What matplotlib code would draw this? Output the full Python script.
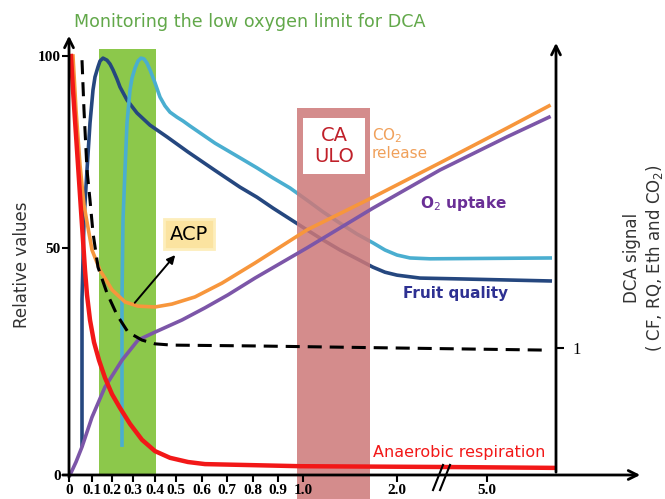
import matplotlib.pyplot as plt
import matplotlib.patches as patches

# x is position along the drawn O2 axis, y is relative value (0-100)
xtick_pos = [0, 23, 43, 64, 86, 107, 133, 158, 184, 209, 234, 328, 418]
xtick_labels = ['0', '0.1', '0.2', '0.3', '0.4', '0.5', '0.6', '0.7', '0.8', '0.9', '1.0', '2.0', '5.0']
ytick_pos = [0, 54.2, 100]
ytick_labels = ['0', '50', '100']
dca_tick_pos = [30.3]
dca_tick_labels = ['1']

# anaerobic respiration
red_x = [2, 4, 6, 8, 10, 12, 14, 16, 18, 21, 25, 30, 36, 43, 51, 61, 73, 86, 101, 119, 136, 231, 381, 484]
red_y = [100, 91.9, 84.7, 77.6, 70.4, 63.2, 56.1, 48.9, 43.0, 37.0, 31.7, 27.4, 23.2, 19.3, 16.0, 12.2,
         8.4, 5.7, 4.1, 3.1, 2.6, 2.1, 1.9, 1.7]

# CO2 release
co2_x = [4, 7, 11, 15, 23, 31, 43, 56, 69, 86, 103, 126, 153, 186, 238, 304, 371, 438, 480]
co2_y = [100, 87.1, 74.0, 64.4, 53.7, 48.9, 44.2, 41.3, 40.3, 40.1, 40.8, 42.5, 45.8, 50.6, 58.5, 66.3, 74.5, 82.8, 88.1]

# O2 uptake
o2_x = [1, 7, 13, 23, 36, 53, 69, 86, 113, 136, 159, 186, 238, 304, 371, 438, 480]
o2_y = [0, 3.1, 6.7, 13.8, 21.0, 27.4, 32.2, 34.1, 37.0, 39.9, 43.0, 47.0, 54.2, 63.7, 72.8, 80.7, 85.4]

# fruit quality (dark blue)
fq_x = [13, 13, 15, 18, 21, 24, 26, 29, 31, 34, 38, 41, 44, 48, 51, 58, 68, 81, 98, 119, 146, 171, 188,
        204, 221, 238, 254, 271, 288, 304, 316, 328, 351, 391, 483]
fq_y = [6.7, 41.8, 60.9, 72.8, 84.0, 91.9, 95.0, 97.4, 98.8, 99.5, 99.0, 98.1, 96.7, 94.5, 92.6, 89.5,
        86.4, 83.5, 80.7, 77.1, 72.7, 68.7, 66.3, 63.7, 61.1, 58.5, 56.1, 53.7, 51.6, 49.6, 48.4, 47.7,
        47.0, 46.8, 46.3]

# second quality curve (light blue)
lb_x = [53, 53, 54, 56, 58, 61, 63, 66, 69, 72, 75, 78, 81, 86, 91, 96, 101, 108, 114, 121, 146, 171,
        188, 204, 221, 238, 254, 271, 288, 304, 316, 328, 341, 361, 483]
lb_y = [6.7, 41.8, 60.9, 72.8, 84.0, 91.9, 94.7, 97.1, 98.8, 99.5, 99.3, 98.3, 96.7, 93.6, 90.2, 88.1,
        86.6, 85.4, 84.5, 83.3, 79.2, 75.7, 73.3, 70.9, 68.5, 65.6, 62.8, 60.1, 57.5, 55.4, 53.7, 52.5,
        51.8, 51.6, 51.8]

# DCA signal (dashed)
dca_x = [13, 15, 18, 21, 24, 29, 38, 48, 59, 73, 86, 103, 186, 331, 479]
dca_y = [99.0, 87.1, 72.8, 65.6, 57.8, 49.6, 43.4, 38.2, 34.1, 32.2, 31.3, 31.0, 30.8, 30.3, 29.8]

# zones
acp_zone = (30, 87)
ulo_zone = (228, 301)

fig = plt.figure(figsize=(6.65, 4.99), dpi=100)
ax = fig.add_axes([0, 0, 1, 1])
ax.set_xlim(-69, 596)
ax.set_ylim(-5.73, 113.37)

for s in ax.spines.values():
    s.set_visible(False)
ax.spines['left'].set_position(('data', 0))
ax.spines['bottom'].set_position(('data', 0))

ax.set_xticks(xtick_pos, xtick_labels)
ax.set_yticks(ytick_pos, ytick_labels)
ax.tick_params(axis='x', direction='out', length=5, width=1.5, pad=1.5,
               labelsize=11)
ax.tick_params(axis='y', direction='out', length=5, width=1.5, pad=1,
               labelsize=11)
for lab in ax.get_xticklabels() + ax.get_yticklabels():
    lab.set_family('Liberation Serif')
    lab.set_fontweight('bold')
ax.xaxis.set_zorder(8)
ax.yaxis.set_zorder(8)

# right DCA axis
ax2 = ax.twinx()
ax2.set_ylim(ax.get_ylim())
for s in ax2.spines.values():
    s.set_visible(False)
ax2.spines['right'].set_position(('data', 487))
ax2.set_yticks(dca_tick_pos, dca_tick_labels)
ax2.tick_params(axis='y', direction='out', length=6, width=1.5, pad=6, labelsize=12)
for lab in ax2.get_yticklabels():
    lab.set_family('Liberation Serif')

# axis lines with arrows
arr = dict(arrowstyle='->', lw=2, color='black', mutation_scale=16)
ax.annotate('', xy=(0, 105.5), xytext=(0, -1.2), arrowprops=arr, zorder=8)
ax.annotate('', xy=(574, 0), xytext=(-9, 0), arrowprops=arr, zorder=8)
ax.annotate('', xy=(487, 103.8), xytext=(487, 0), arrowprops=arr, zorder=8)

# axis break
ax.plot([364, 374], [-3.6, 2.4], color='black', lw=1.5, clip_on=False, zorder=8)
ax.plot([371, 381], [-3.6, 2.4], color='black', lw=1.5, clip_on=False, zorder=8)

# shaded zones
ax.add_patch(patches.Rectangle((acp_zone[0], 0), acp_zone[1] - acp_zone[0], 101.7,
                               facecolor='#8cc84b', edgecolor='none', zorder=1))
ax.add_patch(patches.Rectangle((ulo_zone[0], -6), ulo_zone[1] - ulo_zone[0], 93.6,
                               facecolor='#cd7878', alpha=0.85, edgecolor='none', zorder=3))
ax.add_patch(patches.Rectangle((234, 71.8), 62, 13.4, facecolor='white',
                               edgecolor='none', zorder=3.5))
ax.text(265, 78.5, 'CA\nULO', color='#c0202a', fontsize=14, ha='center', va='center',
        linespacing=1.15, zorder=4)

# curves
ax.plot(fq_x, fq_y, color='#25477f', lw=2.6, zorder=2, solid_capstyle='butt', solid_joinstyle='round')
ax.plot(lb_x, lb_y, color='#4aaed0', lw=2.6, zorder=2, solid_capstyle='butt', solid_joinstyle='round')
ax.plot(co2_x, co2_y, color='#f7963c', lw=2.6, zorder=5, solid_joinstyle='round')
ax.plot(o2_x, o2_y, color='#7c56a8', lw=2.6, zorder=5, solid_joinstyle='round')
ax.plot(red_x, red_y, color='#f21818', lw=3.2, zorder=5, solid_joinstyle='round')
ax.plot(dca_x, dca_y, color='black', lw=2.2, dashes=(4.6, 2.6), zorder=5)

# labels
ax.text(181, 108.1, 'Monitoring the low oxygen limit for DCA', color='#62a84a',
        fontsize=12.6, ha='center', va='center')
ax.text(-47, 50.1, 'Relative values', rotation=90, fontsize=12, color='#333333',
        ha='center', va='center')
ax.text(575, 51.8, 'DCA signal\n( CF, RQ, Eth and CO$_2$)', rotation=90, fontsize=12,
        color='#333333', ha='center', va='center', multialignment='center')
ax.text(303, 83.3, 'CO$_2$\nrelease', color='#f0a05a', fontsize=11, ha='left', va='top',
        linespacing=1.1, zorder=6)
ax.text(351, 64.9, 'O$_2$ uptake', color='#6a2f96', fontsize=11, fontweight='bold',
        ha='left', va='center', zorder=6)
ax.text(334, 43.4, 'Fruit quality', color='#2e3192', fontsize=11, fontweight='bold',
        ha='left', va='center', zorder=6)
ax.text(304, 5.3, 'Anaerobic respiration', color='#f21818', fontsize=11.5,
        ha='left', va='center', zorder=6)
ax.text(120, 57.5, 'ACP', fontsize=14, ha='center', va='center', zorder=6,
        bbox=dict(boxstyle='square,pad=0.3', facecolor='#fbe3a0', edgecolor='#fdeebb', lw=2))
ax.annotate('', xy=(108, 53.0), xytext=(64, 40.6),
            arrowprops=dict(arrowstyle='-|>', lw=1.4, color='black', mutation_scale=12),
            zorder=6)

fig.savefig('out.png', dpi=100)
